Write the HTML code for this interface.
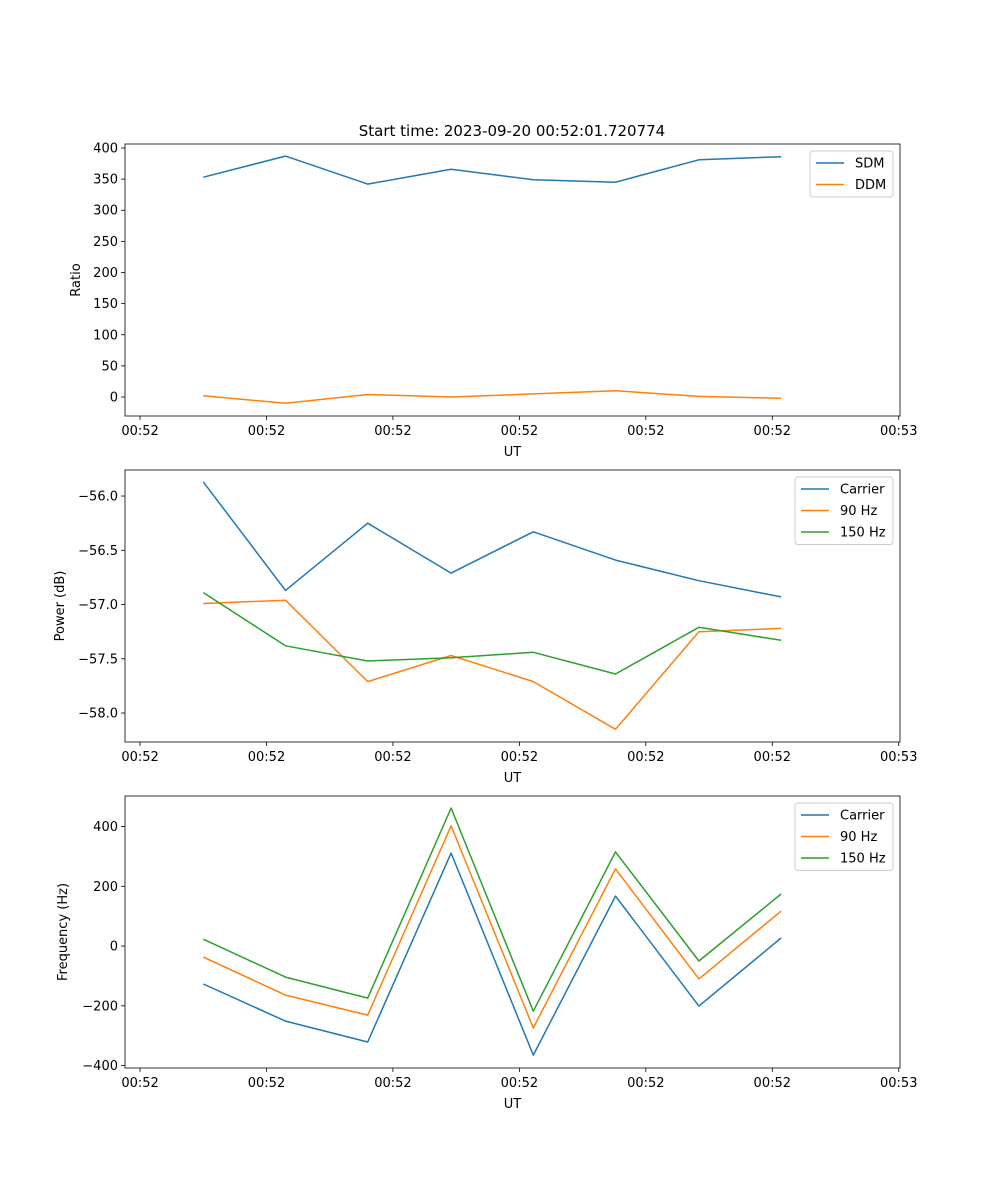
<!DOCTYPE html>
<html><head><meta charset="utf-8"><style>
html,body{margin:0;padding:0;background:#fff;}
svg{display:block;font-family:"DejaVu Sans","Liberation Sans",sans-serif;}
</style></head><body>
<svg id="fig" width="1000" height="1200" viewBox="0 0 1000 1200">
<text x="512" y="136" font-size="15" text-anchor="middle">Start time: 2023-09-20 00:52:01.720774</text>
</svg>
<script>
// time in seconds after 00:52:00
const times = [5.0, 11.5, 18.0, 24.6, 31.1, 37.6, 44.2, 50.7];
const xTickVals = [0, 10, 20, 30, 40, 50, 60];
const xTickLabels = ["00:52","00:52","00:52","00:52","00:52","00:52","00:53"];
const sdm = [353, 387, 342, 366, 349, 345, 381, 386];
const ddm = [2, -10, 4, 0, 5, 10, 1, -2];
const powCarrier = [-55.87, -56.87, -56.25, -56.71, -56.33, -56.59, -56.78, -56.93];
const pow90 = [-56.99, -56.96, -57.71, -57.47, -57.71, -58.15, -57.25, -57.22];
const pow150 = [-56.89, -57.38, -57.52, -57.49, -57.44, -57.64, -57.21, -57.33];
const freqCarrier = [-127, -251, -321, 311, -365, 167, -201, 27];
const freq90 = [-37, -164, -231, 402, -274, 258, -110, 117];
const freq150 = [23, -104, -174, 462, -218, 315, -50, 174];
const ratioTicks = [0, 50, 100, 150, 200, 250, 300, 350, 400];
const powerTicks = [-58.0, -57.5, -57.0, -56.5, -56.0];
const freqTicks = [-400, -200, 0, 200, 400];

const NS = "http://www.w3.org/2000/svg";
const svg = document.getElementById("fig");
const C = {blue:"#1f77b4", orange:"#ff7f0e", green:"#2ca02c"};
function el(tag, attrs, parent){const e=document.createElementNS(NS,tag);for(const k in attrs)e.setAttribute(k,attrs[k]);(parent||svg).appendChild(e);return e;}

const L=125,R=900,X0=-1.19,X1=60.1;
function xs(v){return L+(v-X0)/(X1-X0)*(R-L);}

function panel(key, top, bottom, y0, y1, yTicks, fmt, ylabel, series, legend){
  const g=el("g",{});
  
  
  const ys=v=>bottom-(v-y0)/(y1-y0)*(bottom-top);
  series.forEach(s=>{
    const pts=times.map((t,i)=>xs(t).toFixed(1)+","+ys(s.vals[i]).toFixed(1)).join(" ");
    const p=el("polyline",{points:pts,fill:"none",stroke:s.color,"stroke-width":1.5,"stroke-linejoin":"round"},g);
    
    
  });
  const fr=el("rect",{x:L,y:top,width:R-L,height:bottom-top,fill:"none",stroke:"#000","stroke-width":0.8},g);
  
  
  xTickVals.forEach((v,i)=>{
    const x=xs(v);
    el("line",{x1:x,x2:x,y1:bottom,y2:bottom+4,stroke:"#000","stroke-width":0.8},g);
    const t=el("text",{x:x,y:bottom+19,"font-size":13,"text-anchor":"middle"},g);
    t.textContent=xTickLabels[i];
    
    
  });
  const xl=el("text",{x:(L+R)/2,y:bottom+40,"font-size":13,"text-anchor":"middle"},g);
  xl.textContent="UT";
  
  
  yTicks.forEach(v=>{
    const y=ys(v);
    el("line",{x1:L-4,x2:L,y1:y,y2:y,stroke:"#000","stroke-width":0.8},g);
    const t=el("text",{x:L-7,y:y+4.5,"font-size":13,"text-anchor":"end"},g);
    t.textContent=fmt(v);
    
    
  });
  const yl=el("text",{x:0,y:0,"font-size":13,"text-anchor":"middle",transform:`translate(${legend.ylx},${(top+bottom)/2}) rotate(-90)`},g);
  yl.textContent=ylabel;
  
  
  const lg=el("g",{},g);
  
  
  const h=3+series.length*21.5;
  el("rect",{x:legend.x,y:top+7,width:893-legend.x,height:h,fill:"#fff",stroke:"#ccc","stroke-width":1,rx:3},lg);
  series.forEach((s,i)=>{
    const y=top+19+i*21.5;
    el("line",{x1:legend.x+6,x2:legend.x+34,y1:y,y2:y,stroke:s.color,"stroke-width":1.5},lg);
    const t=el("text",{x:legend.x+45,y:y+4.5,"font-size":13},lg);
    t.textContent=s.name;
    
    
  });
}

panel("ratio",144,416,-30.5,406.4,ratioTicks,v=>String(v),"Ratio",
  [{id:"sdm",name:"SDM",color:C.blue,vals:sdm},{id:"ddm",name:"DDM",color:C.orange,vals:ddm}],
  {x:810,ylx:80});
panel("power",470,742,-58.267,-55.76,powerTicks,v=>"\u2212"+Math.abs(v).toFixed(1),"Power (dB)",
  [{id:"carrier",name:"Carrier",color:C.blue,vals:powCarrier},{id:"90hz",name:"90 Hz",color:C.orange,vals:pow90},{id:"150hz",name:"150 Hz",color:C.green,vals:pow150}],
  {x:795,ylx:64});
panel("frequency",796,1068,-408,502,freqTicks,v=>v<0?"\u2212"+Math.abs(v):String(v),"Frequency (Hz)",
  [{id:"carrier",name:"Carrier",color:C.blue,vals:freqCarrier},{id:"90hz",name:"90 Hz",color:C.orange,vals:freq90},{id:"150hz",name:"150 Hz",color:C.green,vals:freq150}],
  {x:795,ylx:67});
</script>
</body></html>
